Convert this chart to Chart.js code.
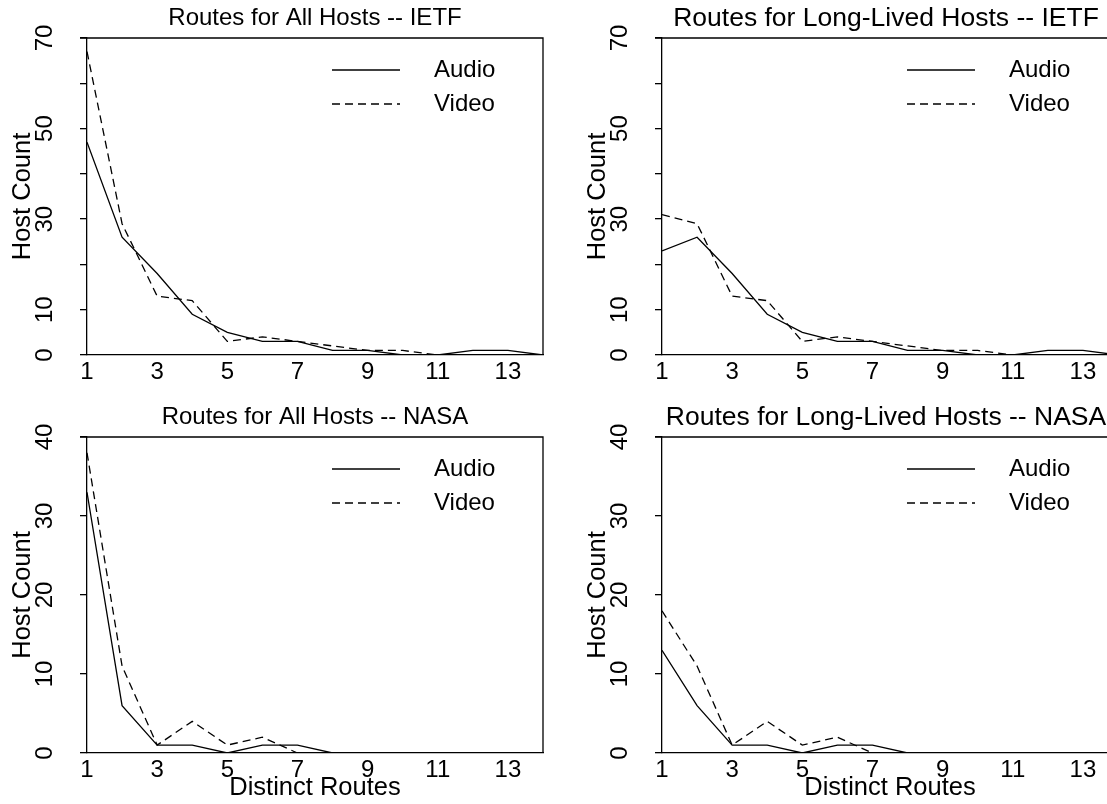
<!DOCTYPE html>
<html>
<head>
<meta charset="utf-8">
<script src="https://cdn.jsdelivr.net/npm/chart.js@4.4.1/dist/chart.umd.min.js"></script>
<style>
  html, body { margin: 0; padding: 0; background: #fff; }
  #wrap { position: relative; width: 1107px; height: 804px; overflow: hidden; }
  .panel { position: absolute; }
</style>
</head>
<body>
<div id="wrap">
  <canvas class="panel" id="ietfAll" width="630" height="400" style="left:0;top:0"></canvas>
  <canvas class="panel" id="ietfLong" width="630" height="400" style="left:575px;top:0"></canvas>
  <canvas class="panel" id="nasaAll" width="630" height="404" style="left:0;top:400px"></canvas>
  <canvas class="panel" id="nasaLong" width="630" height="404" style="left:575px;top:400px"></canvas>
</div>
<script>
// distinct routes (x axis)
const routes = [1, 2, 3, 4, 5, 6, 7, 8, 9, 10, 11, 12, 13, 14];
const xTicks = [1, 3, 5, 7, 9, 11, 13];

// host counts
const ietfAllAudio  = [47, 26, 18, 9, 5, 3, 3, 1, 1, 0, 0, 1, 1, 0];
const ietfAllVideo  = [67, 29, 13, 12, 3, 4, 3, 2, 1, 1, 0, 0, 0, 0];
const ietfLongAudio = [23, 26, 18, 9, 5, 3, 3, 1, 1, 0, 0, 1, 1, 0];
const ietfLongVideo = [31, 29, 13, 12, 3, 4, 3, 2, 1, 1, 0, 0, 0, 0];
const nasaAllAudio  = [33, 6, 1, 1, 0, 1, 1, 0, 0, 0, 0, 0, 0, 0];
const nasaAllVideo  = [38, 11, 1, 4, 1, 2, 0, 0, 0, 0, 0, 0, 0, 0];
const nasaLongAudio = [13, 6, 1, 1, 0, 1, 1, 0, 0, 0, 0, 0, 0, 0];
const nasaLongVideo = [18, 11, 1, 4, 1, 2, 0, 0, 0, 0, 0, 0, 0, 0];

// y ticks: IETF panels only label some of them (R drops overlapping labels)
const ietfYTicks = [0, 10, 20, 30, 40, 50, 60, 70];
const ietfYLabels = [0, 10, 30, 50, 70];
const nasaYTicks = [0, 10, 20, 30, 40];
const nasaYLabels = [0, 10, 20, 30, 40];

const FONT = 'Liberation Sans, Arial, Helvetica, sans-serif';
const INK = '#000';

// legend inside the plot, R style: line sample + label
const legendInside = {
    id: 'legendInside',
    afterDatasetsDraw(chart) {
        const { ctx, chartArea } = chart;
        ctx.save();
        ctx.font = '24px ' + FONT;
        ctx.textBaseline = 'middle';
        ctx.fillStyle = INK;
        chart.data.datasets.forEach((ds, i) => {
            const y = chartArea.top + 32 + i * 34;
            ctx.beginPath();
            ctx.setLineDash(ds.borderDash || []);
            ctx.lineWidth = 1.3;
            ctx.strokeStyle = INK;
            ctx.moveTo(chartArea.left + 245, y);
            ctx.lineTo(chartArea.left + 313, y);
            ctx.stroke();
            ctx.setLineDash([]);
            ctx.fillText(ds.label, chartArea.left + 347, y);
        });
        ctx.restore();
    }
};

// top and right sides of the box, plus the title centred over the plot region
const boxFrame = {
    id: 'boxFrame',
    afterDraw(chart, args, opts) {
        const { ctx, chartArea } = chart;
        ctx.save();
        ctx.strokeStyle = INK;
        ctx.lineWidth = 1.3;
        ctx.beginPath();
        ctx.moveTo(chartArea.left - 7, chartArea.top);
        ctx.lineTo(chartArea.right, chartArea.top);
        ctx.lineTo(chartArea.right, chartArea.bottom);
        ctx.stroke();
        ctx.font = opts.size + 'px ' + FONT;
        ctx.fillStyle = INK;
        ctx.textAlign = 'center';
        ctx.textBaseline = 'middle';
        ctx.fillText(opts.text, (chartArea.left + chartArea.right) / 2 + opts.dx, opts.y);
        ctx.restore();
    }
};

function makePanel(id, title, titleSize, audio, video, yMax, yTicks, yLabels, bottomRow) {
    const ctx = document.getElementById(id).getContext('2d');
    return new Chart(ctx, {
        type: 'line',
        data: {
            labels: routes,
            datasets: [{
                label: 'Audio',
                data: routes.map((r, i) => ({ x: r, y: audio[i] })),
                borderColor: INK,
                borderWidth: 1.3,
                pointRadius: 0,
                tension: 0
            }, {
                label: 'Video',
                data: routes.map((r, i) => ({ x: r, y: video[i] })),
                borderColor: INK,
                borderWidth: 1.3,
                borderDash: [8, 5],
                pointRadius: 0,
                tension: 0
            }]
        },
        options: {
            responsive: false,
            animation: false,
            devicePixelRatio: 1,
            layout: { padding: { left: 0, right: 87, top: bottomRow ? 37 : 38, bottom: 0 } },
            plugins: {
                legend: { display: false },
                tooltip: { enabled: false },
                title: { display: false },
                boxFrame: { text: title, size: titleSize, y: bottomRow ? 17.6 : 18.4, dx: titleSize > 24 ? -4 : 0 }
            },
            scales: {
                x: {
                    type: 'linear',
                    min: 1,
                    max: 14,
                    afterBuildTicks: s => { s.ticks = xTicks.map(v => ({ value: v })); },
                    afterFit: s => { s.height = bottomRow ? 51 : 45; },
                    grid: { display: false, drawTicks: false },
                    border: { display: true, color: INK, width: 1.3 },
                    ticks: {
                        color: INK,
                        padding: 3,
                        maxRotation: 0,
                        autoSkip: false,
                        font: { family: FONT, size: 24 }
                    },
                    title: {
                        display: bottomRow,
                        text: 'Distinct Routes',
                        color: INK,
                        padding: { top: 0, bottom: 1 },
                        font: { family: FONT, size: 25.5 }
                    }
                },
                y: {
                    type: 'linear',
                    min: 0,
                    max: yMax,
                    afterBuildTicks: s => { s.ticks = yTicks.map(v => ({ value: v })); },
                    afterFit: s => { s.width = 87; },
                    grid: {
                        drawOnChartArea: false,
                        drawTicks: true,
                        tickLength: 7,
                        color: INK,
                        lineWidth: 1.3
                    },
                    border: { display: true, color: INK, width: 1.3 },
                    ticks: {
                        color: INK,
                        padding: 21,
                        minRotation: 90,
                        maxRotation: 90,
                        crossAlign: 'center',
                        autoSkip: false,
                        font: { family: FONT, size: 24 },
                        callback: v => yLabels.includes(v) ? String(v) : ''
                    },
                    title: {
                        display: true,
                        text: 'Host Count',
                        color: INK,
                        padding: { top: 8, bottom: 0 },
                        font: { family: FONT, size: 25.5 }
                    }
                }
            }
        },
        plugins: [legendInside, boxFrame]
    });
}

makePanel('ietfAll', 'Routes for All Hosts -- IETF', 24, ietfAllAudio, ietfAllVideo, 70, ietfYTicks, ietfYLabels, false);
makePanel('ietfLong', 'Routes for Long-Lived Hosts -- IETF', 26.5, ietfLongAudio, ietfLongVideo, 70, ietfYTicks, ietfYLabels, false);
makePanel('nasaAll', 'Routes for All Hosts -- NASA', 24, nasaAllAudio, nasaAllVideo, 40, nasaYTicks, nasaYLabels, true);
makePanel('nasaLong', 'Routes for Long-Lived Hosts -- NASA', 26.5, nasaLongAudio, nasaLongVideo, 40, nasaYTicks, nasaYLabels, true);
</script>
</body>
</html>
